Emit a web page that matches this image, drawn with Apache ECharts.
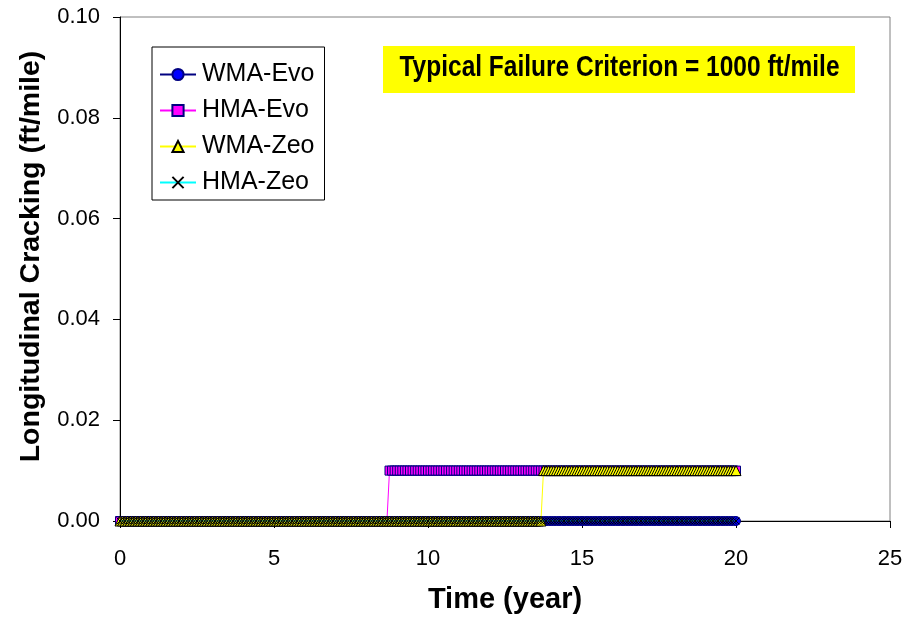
<!DOCTYPE html>
<html>
<head>
<meta charset="utf-8">
<script src="https://cdn.jsdelivr.net/npm/echarts@6/dist/echarts.min.js"></script>
<style>
html,body{margin:0;padding:0;background:#fff;}
#chart{width:906px;height:619px;}
</style>
</head>
<body>
<div id="chart"></div>
<script>
// Monthly outputs, 0 to 20 years (241 points), one row per year
const monthsPerYear = 12;
const seriesNames = ["WMA-Evo", "HMA-Evo", "WMA-Zeo", "HMA-Zeo"];
const wmaEvo = [
0,0,0,0,0,0,0,0,0,0,0,0,
0,0,0,0,0,0,0,0,0,0,0,0,
0,0,0,0,0,0,0,0,0,0,0,0,
0,0,0,0,0,0,0,0,0,0,0,0,
0,0,0,0,0,0,0,0,0,0,0,0,
0,0,0,0,0,0,0,0,0,0,0,0,
0,0,0,0,0,0,0,0,0,0,0,0,
0,0,0,0,0,0,0,0,0,0,0,0,
0,0,0,0,0,0,0,0,0,0,0,0,
0,0,0,0,0,0,0,0,0,0,0,0,
0,0,0,0,0,0,0,0,0,0,0,0,
0,0,0,0,0,0,0,0,0,0,0,0,
0,0,0,0,0,0,0,0,0,0,0,0,
0,0,0,0,0,0,0,0,0,0,0,0,
0,0,0,0,0,0,0,0,0,0,0,0,
0,0,0,0,0,0,0,0,0,0,0,0,
0,0,0,0,0,0,0,0,0,0,0,0,
0,0,0,0,0,0,0,0,0,0,0,0,
0,0,0,0,0,0,0,0,0,0,0,0,
0,0,0,0,0,0,0,0,0,0,0,0,
0];
const hmaEvo = [
0,0,0,0,0,0,0,0,0,0,0,0,
0,0,0,0,0,0,0,0,0,0,0,0,
0,0,0,0,0,0,0,0,0,0,0,0,
0,0,0,0,0,0,0,0,0,0,0,0,
0,0,0,0,0,0,0,0,0,0,0,0,
0,0,0,0,0,0,0,0,0,0,0,0,
0,0,0,0,0,0,0,0,0,0,0,0,
0,0,0,0,0,0,0,0,0,0,0,0,
0,0,0,0,0,0,0,0,0,0.01,0.01,0.01,
0.01,0.01,0.01,0.01,0.01,0.01,0.01,0.01,0.01,0.01,0.01,0.01,
0.01,0.01,0.01,0.01,0.01,0.01,0.01,0.01,0.01,0.01,0.01,0.01,
0.01,0.01,0.01,0.01,0.01,0.01,0.01,0.01,0.01,0.01,0.01,0.01,
0.01,0.01,0.01,0.01,0.01,0.01,0.01,0.01,0.01,0.01,0.01,0.01,
0.01,0.01,0.01,0.01,0.01,0.01,0.01,0.01,0.01,0.01,0.01,0.01,
0.01,0.01,0.01,0.01,0.01,0.01,0.01,0.01,0.01,0.01,0.01,0.01,
0.01,0.01,0.01,0.01,0.01,0.01,0.01,0.01,0.01,0.01,0.01,0.01,
0.01,0.01,0.01,0.01,0.01,0.01,0.01,0.01,0.01,0.01,0.01,0.01,
0.01,0.01,0.01,0.01,0.01,0.01,0.01,0.01,0.01,0.01,0.01,0.01,
0.01,0.01,0.01,0.01,0.01,0.01,0.01,0.01,0.01,0.01,0.01,0.01,
0.01,0.01,0.01,0.01,0.01,0.01,0.01,0.01,0.01,0.01,0.01,0.01,
0.01];
const wmaZeo = [
0,0,0,0,0,0,0,0,0,0,0,0,
0,0,0,0,0,0,0,0,0,0,0,0,
0,0,0,0,0,0,0,0,0,0,0,0,
0,0,0,0,0,0,0,0,0,0,0,0,
0,0,0,0,0,0,0,0,0,0,0,0,
0,0,0,0,0,0,0,0,0,0,0,0,
0,0,0,0,0,0,0,0,0,0,0,0,
0,0,0,0,0,0,0,0,0,0,0,0,
0,0,0,0,0,0,0,0,0,0,0,0,
0,0,0,0,0,0,0,0,0,0,0,0,
0,0,0,0,0,0,0,0,0,0,0,0,
0,0,0,0,0,0,0,0,0,0,0,0,
0,0,0,0,0,0,0,0,0,0,0,0,
0,0,0,0,0,0,0,0,0,0.01,0.01,0.01,
0.01,0.01,0.01,0.01,0.01,0.01,0.01,0.01,0.01,0.01,0.01,0.01,
0.01,0.01,0.01,0.01,0.01,0.01,0.01,0.01,0.01,0.01,0.01,0.01,
0.01,0.01,0.01,0.01,0.01,0.01,0.01,0.01,0.01,0.01,0.01,0.01,
0.01,0.01,0.01,0.01,0.01,0.01,0.01,0.01,0.01,0.01,0.01,0.01,
0.01,0.01,0.01,0.01,0.01,0.01,0.01,0.01,0.01,0.01,0.01,0.01,
0.01,0.01,0.01,0.01,0.01,0.01,0.01,0.01,0.01,0.01,0.01,0.01,
0.01];
const hmaZeo = [
0,0,0,0,0,0,0,0,0,0,0,0,
0,0,0,0,0,0,0,0,0,0,0,0,
0,0,0,0,0,0,0,0,0,0,0,0,
0,0,0,0,0,0,0,0,0,0,0,0,
0,0,0,0,0,0,0,0,0,0,0,0,
0,0,0,0,0,0,0,0,0,0,0,0,
0,0,0,0,0,0,0,0,0,0,0,0,
0,0,0,0,0,0,0,0,0,0,0,0,
0,0,0,0,0,0,0,0,0,0,0,0,
0,0,0,0,0,0,0,0,0,0,0,0,
0,0,0,0,0,0,0,0,0,0,0,0,
0,0,0,0,0,0,0,0,0,0,0,0,
0,0,0,0,0,0,0,0,0,0,0,0,
0,0,0,0,0,0,0,0,0,0,0,0,
0,0,0,0,0,0,0,0,0,0,0,0,
0,0,0,0,0,0,0,0,0,0,0,0,
0,0,0,0,0,0,0,0,0,0,0,0,
0,0,0,0,0,0,0,0,0,0,0,0,
0,0,0,0,0,0,0,0,0,0,0,0,
0,0,0,0,0,0,0,0,0,0,0,0,
0];
const xTicks = [0, 5, 10, 15, 20, 25];
const yTicks = [0, 0.02, 0.04, 0.06, 0.08, 0.10];
const xTitle = "Time (year)";
const yTitle = "Longitudinal Cracking (ft/mile)";
const noteText = "Typical Failure Criterion = 1000 ft/mile";

function pairs(vals) {
  return vals.map((v, i) => [i / monthsPerYear, v]);
}

const FONT = "'Liberation Sans', Arial, sans-serif";
const chart = echarts.init(document.getElementById('chart'), null, {renderer: 'canvas'});

const styles = [
  {line: '#000080', symbol: 'circle', size: 9, fill: '#0000FF', border: '#000080'},
  {line: '#FF00FF', symbol: 'rect', size: 9, fill: '#FF00FF', border: '#000080'},
  {line: '#FFFF00', symbol: 'triangle', size: 10, fill: '#FFFF00', border: '#000000'},
  {line: '#00FFFF', symbol: 'path://M0,0L10,10M10,0L0,10', size: 7, fill: '#000000', border: '#000000'}
];
const allData = [wmaEvo, hmaEvo, wmaZeo, hmaZeo];

const series = seriesNames.map((name, k) => ({
  name: name,
  type: 'line',
  data: pairs(allData[k]),
  showAllSymbol: true,
  symbol: styles[k].symbol,
  symbolSize: styles[k].size,
  lineStyle: {color: styles[k].line, width: 1},
  itemStyle: {color: styles[k].fill, borderColor: styles[k].border, borderWidth: 1},
  emphasis: {disabled: true},
  silent: true,
  z: 2 + k
}));

chart.setOption({
  animation: false,
  backgroundColor: '#ffffff',
  grid: {left: 120, right: 16, top: 17, bottom: 96, show: true, borderColor: '#808080', borderWidth: 1, backgroundColor: '#ffffff'},
  xAxis: {
    type: 'value', min: xTicks[0], max: xTicks[xTicks.length - 1], interval: 5,
    axisLine: {show: true, onZero: false, lineStyle: {color: '#000', width: 1}},
    axisTick: {show: true, inside: false, length: 7, lineStyle: {color: '#000'}},
    splitLine: {show: false},
    axisLabel: {color: '#000', fontFamily: FONT, fontSize: 22, margin: 27},
    name: xTitle, nameLocation: 'middle', nameGap: 64,
    nameTextStyle: {color: '#000', fontFamily: FONT, fontSize: 29, fontWeight: 'bold'}
  },
  yAxis: {
    type: 'value', min: yTicks[0], max: yTicks[yTicks.length - 1], interval: 0.02,
    axisLine: {show: true, lineStyle: {color: '#000', width: 1}},
    axisTick: {show: true, inside: false, length: 7, lineStyle: {color: '#000'}},
    splitLine: {show: false},
    axisLabel: {color: '#000', fontFamily: FONT, fontSize: 22, margin: 20, formatter: v => v.toFixed(2)}
  },
  legend: {
    orient: 'vertical', left: 152, top: 47,
    data: seriesNames,
    backgroundColor: '#ffffff', borderColor: '#000000', borderWidth: 1,
    padding: [15, 10, 5, 7], itemGap: 11, itemWidth: 36, itemHeight: 14,
    textStyle: {color: '#000', fontFamily: FONT, fontSize: 25, padding: [0, 0, 0, 1]},
    selectedMode: false
  },
  graphic: [
    {type: 'rect', left: 383, top: 46, shape: {width: 472, height: 47}, style: {fill: '#FFFF00'}, z: 10},
    {type: 'text', x: 619.5, y: 68, scaleX: 0.845, z: 11,
     style: {text: noteText, fill: '#000', font: "bold 29px 'Liberation Sans', Arial, sans-serif", align: 'center', verticalAlign: 'middle'}},
    {type: 'text', x: 31, y: 256.5, rotation: Math.PI / 2, z: 11,
     style: {text: yTitle, fill: '#000', font: "bold 28.5px 'Liberation Sans', Arial, sans-serif", align: 'center', verticalAlign: 'middle'}}
  ],
  series: series
});
</script>
</body>
</html>
